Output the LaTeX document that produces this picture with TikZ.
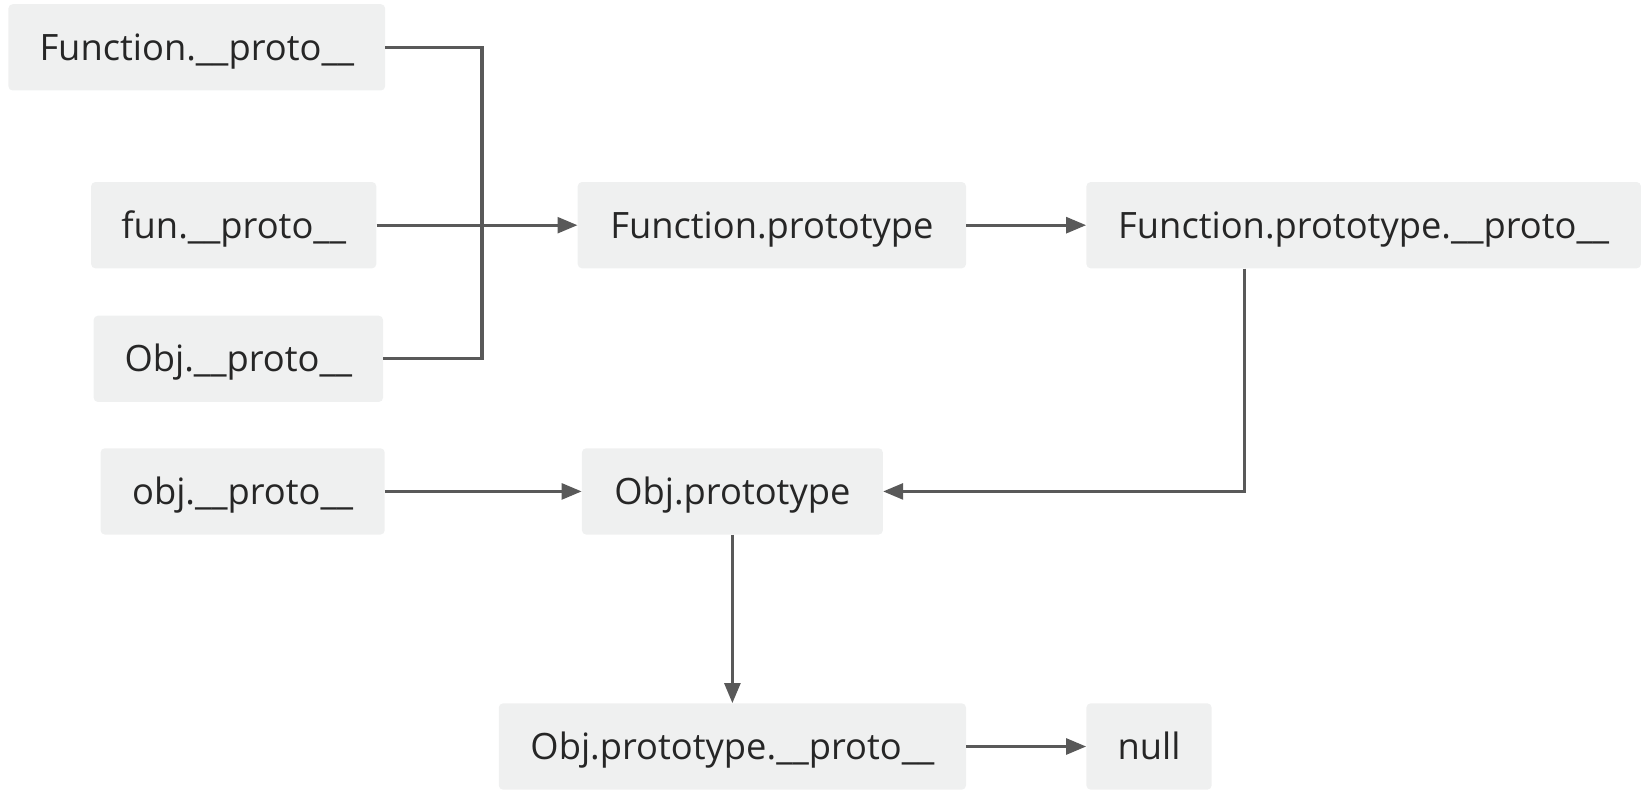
\documentclass[tikz,border=0pt]{standalone}
\usepackage{fontspec}
\setmainfont{Open Sans}
\usetikzlibrary{arrows.meta, positioning}

\definecolor{boxFill}{HTML}{EFF0F0}
\definecolor{linkGray}{HTML}{595959}
\definecolor{textDark}{HTML}{262626}

\begin{document}
\begin{tikzpicture}[
        x=1pt, y=-1pt,
        protoBox/.style={
            rectangle, rounded corners=4pt, fill=boxFill, draw=none,
            minimum height=82pt, inner sep=0pt, text=textDark,
            text height=24.6pt, text depth=0pt,
            font=\fontsize{34.5}{40}\selectfont
        },
        link/.style={
            line width=3pt, draw=linkGray
        },
        arrow/.style={
            link, -{Triangle[length=19pt, width=15pt]}
        }
    ]
        \useasboundingbox (0,0) rectangle (1568,754);

        % Nodes
        \node (fnProto) [protoBox, minimum width=369pt] at (733.5,214) {Function.prototype};
        \node (fnProtoProto) [protoBox, minimum width=527pt, right=114pt of fnProto] {Function.prototype.\_\_proto\_\_};
        \node (funDunder) [protoBox, minimum width=271pt, left=191pt of fnProto] {fun.\_\_proto\_\_};
        \node (fnDunder) [protoBox, minimum width=358pt] at (187,45) {Function.\_\_proto\_\_};
        \node (objDunderUp) [protoBox, minimum width=275pt] at (226.5,341) {Obj.\_\_proto\_\_};
        \node (objProto) [protoBox, minimum width=286pt] at (696,467) {Obj.prototype};
        \node (objDunder) [protoBox, minimum width=270pt, left=187pt of objProto] {obj.\_\_proto\_\_};
        \node (objProtoProto) [protoBox, minimum width=444pt, below=160pt of objProto] {Obj.prototype.\_\_proto\_\_};
        \node (nullNode) [protoBox, minimum width=119pt, right=114pt of objProtoProto] {null};

        % Arrows
        \coordinate (merge) at (458,214);
        \draw [link] (fnDunder.east) -| (merge) |- (objDunderUp.east);
        \draw [arrow] (funDunder) -- (fnProto);
        \draw [arrow] (fnProto) -- (fnProtoProto);
        \draw [arrow] ([xshift=-113.5pt]fnProtoProto.south) |- (objProto.east);
        \draw [arrow] (objDunder) -- (objProto);
        \draw [arrow] (objProto) -- (objProtoProto);
        \draw [arrow] (objProtoProto) -- (nullNode);
    \end{tikzpicture}
\end{document}
